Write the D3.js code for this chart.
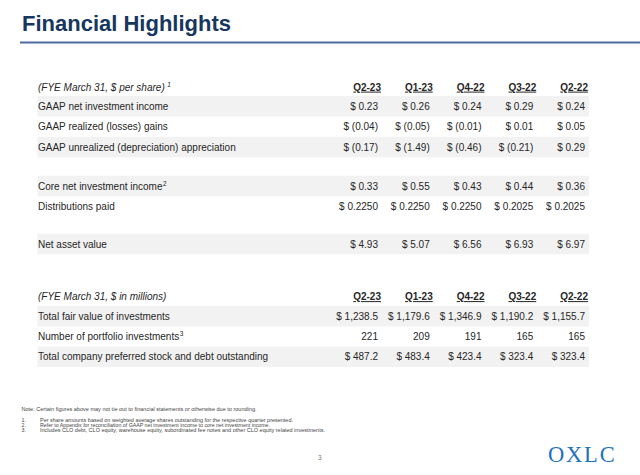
<!DOCTYPE html>
<html><head><meta charset="utf-8">
<script src="https://cdn.jsdelivr.net/npm/d3@7"></script>
<style>
html,body{margin:0;padding:0;background:#fff;}
svg{display:block;font-family:"Liberation Sans",Arial,sans-serif;}
</style></head>
<body><svg id="c" width="640" height="475"></svg>
<script>
// ---- data ----
const quarters = ["Q2-23","Q1-23","Q4-22","Q3-22","Q2-22"];
const perShareHeader = "(FYE March 31, $ per share)";
const millionsHeader = "(FYE March 31, $ in millions)";
const gaapNII = [0.23, 0.26, 0.24, 0.29, 0.24];
const gaapRealized = [-0.04, -0.05, -0.01, 0.01, 0.05];
const gaapUnrealized = [-0.17, -1.49, -0.46, -0.21, 0.29];
const coreNII = [0.33, 0.55, 0.43, 0.44, 0.36];
const distributions = [0.2250, 0.2250, 0.2250, 0.2025, 0.2025];
const netAssetValue = [4.93, 5.07, 6.56, 6.93, 6.97];
const fairValue = [1238.5, 1179.6, 1346.9, 1190.2, 1155.7];
const portfolioCount = [221, 209, 191, 165, 165];
const prefStockDebt = [487.2, 483.4, 423.4, 323.4, 323.4];
const footnotes = [
  "Per share amounts based on weighted average shares outstanding for the respective quarter presented.",
  "Refer to Appendix for reconciliation of GAAP net investment income to core net investment income.",
  "Includes CLO debt, CLO equity, warehouse equity, subordinated fee notes and other CLO equity related investments."
];
const noteText = "Note: Certain figures above may not tie out to financial statements or otherwise due to rounding.";

// ---- formatting ----
const money = dec => v => {
  const f = d3.format(",." + dec + "f");
  return v < 0 ? "$ (" + f(-v) + ")" : "$ " + f(v);
};
const plain = v => d3.format(",")(v);

const rows = [
  {type:"header", label: perShareHeader, sup:"1", y:87},
  {label:"GAAP net investment income", values:gaapNII, fmt:money(2), y:106.3, shaded:true},
  {label:"GAAP realized (losses) gains", values:gaapRealized, fmt:money(2), y:126.6},
  {label:"GAAP unrealized (depreciation) appreciation", values:gaapUnrealized, fmt:money(2), y:147, shaded:true},
  {label:"Core net investment income", sup:"2", values:coreNII, fmt:money(2), y:186, shaded:true},
  {label:"Distributions paid", values:distributions, fmt:money(4), y:206.2},
  {label:"Net asset value", values:netAssetValue, fmt:money(2), y:244, shaded:true},
  {type:"header", label: millionsHeader, y:296.5},
  {label:"Total fair value of investments", values:fairValue, fmt:money(1), y:316.3, shaded:true},
  {label:"Number of portfolio investments", sup:"3", values:portfolioCount, fmt:plain, y:336.5},
  {label:"Total company preferred stock and debt outstanding", values:prefStockDebt, fmt:money(1), y:356.8, shaded:true}
];

const svg = d3.select("#c");
const textColor = "#262626";

// title
svg.append("text").attr("x",22).attr("y",30.5)
  .attr("font-size",22).attr("font-weight","bold").attr("fill","#17375e")
  .text("Financial Highlights");
svg.append("rect").attr("x",20).attr("y",41.5).attr("width",620).attr("height",2).attr("fill","#4e6b9f");

// columns
const x = d3.scalePoint().domain(quarters).range([378, 585]);
const bandX0 = 37.5, bandX1 = 589, rowH = 20.5;

const g = svg.append("g");
rows.forEach(r => {
  if (r.shaded) {
    g.append("rect").attr("x",bandX0).attr("y",r.y - rowH/2).attr("width",bandX1-bandX0).attr("height",rowH).attr("fill","#f2f2f2");
  }
  const t = g.append("text").attr("x",38).attr("y",r.y+3.6).attr("font-size",10).attr("fill",textColor);
  if (r.type === "header") t.attr("font-style","italic");
  t.append("tspan").text(r.label);
  if (r.sup) {
    t.append("tspan").attr("font-size",6.5).attr("dy",-4).attr("dx", r.type==="header"?2.5:0.5).text(r.sup);
  }
  if (r.type === "header") {
    g.selectAll(null).data(quarters).join("text")
      .attr("x", q => x(q) + 3).attr("y", r.y + 3.6)
      .attr("text-anchor","end").attr("font-size",10).attr("font-weight","bold")
      .attr("text-decoration","underline").attr("fill",textColor)
      .text(q => q);
  } else {
    g.selectAll(null).data(r.values).join("text")
      .attr("x", (v,i) => x(quarters[i])).attr("y", r.y + 3.6)
      .attr("text-anchor","end").attr("font-size",10).attr("fill",textColor)
      .text(v => r.fmt(v));
  }
});

// footnotes
const fc = "#444";
const fnLengths = [253, 230, 285];
svg.append("text").attr("x",21.5).attr("y",411).attr("font-size",5.3).attr("fill",fc)
  .attr("textLength",235).attr("lengthAdjust","spacingAndGlyphs").text(noteText);
footnotes.forEach((f,i) => {
  const y = 422 + i*5.2;
  svg.append("text").attr("x",21.5).attr("y",y).attr("font-size",5.3).attr("fill",fc).text((i+1)+".");
  svg.append("text").attr("x",40).attr("y",y).attr("font-size",5.3).attr("fill",fc)
    .attr("textLength",fnLengths[i]).attr("lengthAdjust","spacingAndGlyphs").text(f);
});

// page number and logo
svg.append("text").attr("x",318).attr("y",460).attr("font-size",6.5).attr("fill","#777").text("3");
svg.append("text").attr("x",548).attr("y",462).attr("font-size",22.5)
  .attr("font-family","'Liberation Serif','Times New Roman',serif")
  .attr("letter-spacing",1.8).attr("fill","#1f72c0").text("OXLC");
</script>
</body></html>
